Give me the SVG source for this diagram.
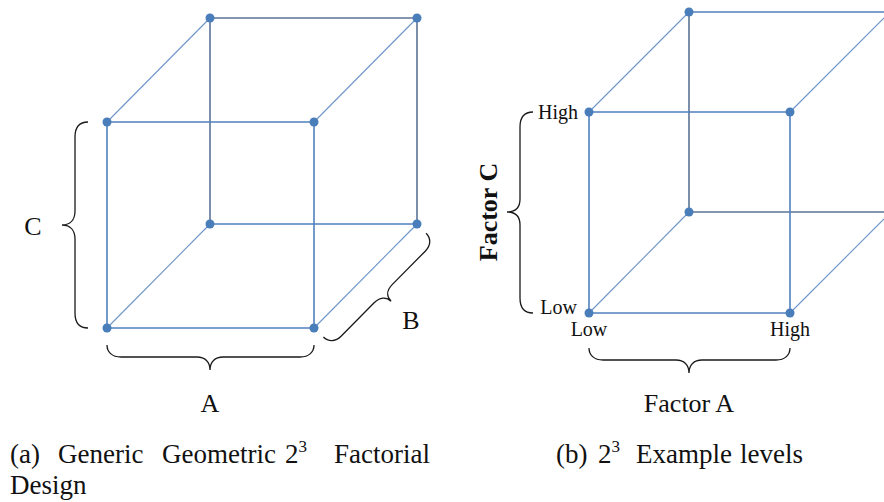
<svg xmlns="http://www.w3.org/2000/svg" width="884" height="502" viewBox="0 0 884 502">
<style>
.f{stroke:#4f81bd;stroke-width:1.6;fill:none}
.b{stroke:#5b7396;stroke-width:1.6;fill:none}
.d{stroke:#6d95c9;stroke-width:1.1;fill:none}
.dot{fill:#4a7ebb}
.br{stroke:#1a1a1a;stroke-width:1.3;fill:none}
text{font-family:"Liberation Serif","DejaVu Serif",serif;fill:#111}
.lab{font-size:26px}
.sm{font-size:20px}
.cap{font-size:27px}
</style>
<g id="cube-a">
<g id="edges-a">
<line class="b" x1="210" y1="18" x2="417" y2="18"/>
<line class="b" x1="210" y1="18" x2="210" y2="224"/>
<line class="b" x1="417" y1="18" x2="417" y2="224"/>
<line class="f" x1="210" y1="224" x2="417" y2="224"/>
<line class="d" x1="107" y1="122" x2="210" y2="18"/>
<line class="d" x1="314" y1="122" x2="417" y2="18"/>
<line class="d" x1="107" y1="328" x2="210" y2="224"/>
<line class="d" x1="314" y1="328" x2="417" y2="224"/>
<line class="f" x1="107" y1="122" x2="314" y2="122"/>
<line class="f" x1="107" y1="328" x2="314" y2="328"/>
<line class="f" x1="107" y1="122" x2="107" y2="328"/>
<line class="f" x1="314" y1="122" x2="314" y2="328"/>
</g>
<g id="nodes-a">
<circle class="dot" cx="210" cy="18" r="4.5"/>
<circle class="dot" cx="417" cy="18" r="4.5"/>
<circle class="dot" cx="210" cy="224" r="4.5"/>
<circle class="dot" cx="417" cy="224" r="4.5"/>
<circle class="dot" cx="107" cy="122" r="4.5"/>
<circle class="dot" cx="314" cy="122" r="4.5"/>
<circle class="dot" cx="107" cy="328" r="4.5"/>
<circle class="dot" cx="314" cy="328" r="4.5"/>
</g>
<g id="braces-a">
<path class="br" d="M88,122 C80,122 75,127 75,137 L75,211 C75,220 70,225 62,225 C70,225 75,230 75,239 L75,313 C75,323 80,328 88,328"/>
<path class="br" d="M107,345 C107,352 112,357 121,357 L197,357 C205,357 210,362 210,370 C210,362 215,357 223,357 L300,357 C309,357 314,352 314,345"/>
<path class="br" transform="translate(365.5,276) rotate(-45.3)" d="M-73,13 C-73,20 -68,25 -60,25 L-13,25 C-5,25 0,29 0,36 C0,29 5,25 13,25 L60,25 C68,25 73,20 73,13"/>
</g>
<text class="lab" x="33" y="235" text-anchor="middle">C</text>
<text class="lab" x="210" y="412" text-anchor="middle">A</text>
<text class="lab" x="411" y="329" text-anchor="middle">B</text>
</g>
<g id="cube-b">
<g id="edges-b">
<line class="f" x1="689" y1="12" x2="884" y2="12"/>
<line class="b" x1="689" y1="12" x2="689" y2="212"/>
<line class="b" x1="689" y1="212" x2="884" y2="212"/>
<line class="d" x1="589" y1="112" x2="689" y2="12"/>
<line class="d" x1="790" y1="112" x2="884" y2="18"/>
<line class="d" x1="589" y1="313" x2="689" y2="212"/>
<line class="d" x1="790" y1="313" x2="884" y2="219"/>
<line class="f" x1="589" y1="112" x2="790" y2="112"/>
<line class="f" x1="589" y1="313" x2="790" y2="313"/>
<line class="f" x1="589" y1="112" x2="589" y2="313"/>
<line class="f" x1="790" y1="112" x2="790" y2="313"/>
</g>
<g id="nodes-b">
<circle class="dot" cx="689" cy="12" r="4.5"/>
<circle class="dot" cx="689" cy="212" r="4.5"/>
<circle class="dot" cx="589" cy="112" r="4.5"/>
<circle class="dot" cx="790" cy="112" r="4.5"/>
<circle class="dot" cx="589" cy="313" r="4.5"/>
<circle class="dot" cx="790" cy="313" r="4.5"/>
</g>
<g id="braces-b">
<path class="br" d="M533,112 C525,112 520,117 520,127 L520,199 C520,208 515,212 507,212 C515,212 520,216 520,225 L520,298 C520,308 525,313 533,313"/>
<path class="br" d="M589,348 C589,355 594,360 603,360 L676,360 C684,360 689,365 689,373 C689,365 694,360 702,360 L776,360 C785,360 790,355 790,348"/>
</g>
<text class="sm" x="578" y="119" text-anchor="end">High</text>
<text class="sm" x="577" y="314" text-anchor="end">Low</text>
<text class="sm" x="589" y="336" text-anchor="middle">Low</text>
<text class="sm" x="790" y="336" text-anchor="middle">High</text>
<text class="lab" font-weight="bold" transform="translate(497,212) rotate(-90)" text-anchor="middle">Factor C</text>
<text class="lab" x="689" y="412" text-anchor="middle" font-size="27">Factor A</text>
</g>
<g id="captions">
<text class="cap" y="463"><tspan x="10">(a)</tspan><tspan x="58">Generic</tspan><tspan x="162">Geometric</tspan><tspan x="285">2</tspan><tspan font-size="17" dy="-11">3</tspan><tspan x="334" dy="11">Factorial</tspan></text>
<text class="cap" x="10" y="494">Design</text>
<text class="cap" y="463"><tspan x="556">(b)</tspan><tspan x="598">2</tspan><tspan font-size="17" dy="-11">3</tspan><tspan x="636" dy="11">Example</tspan><tspan x="740">levels</tspan></text>
</g>
</svg>
